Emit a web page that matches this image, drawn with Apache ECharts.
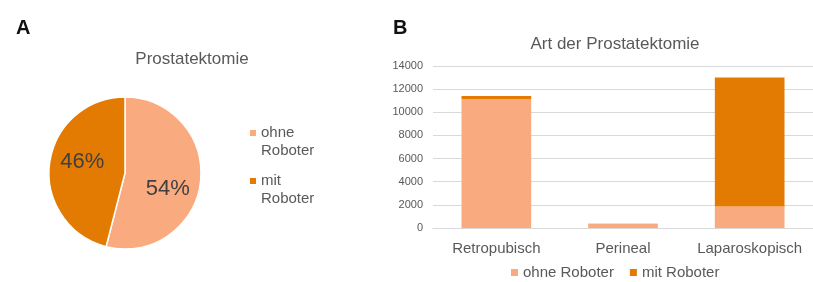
<!DOCTYPE html>
<html>
<head>
<meta charset="utf-8">
<script src="https://cdn.jsdelivr.net/npm/echarts@6/dist/echarts.min.js"></script>
<style>
  html, body { margin: 0; padding: 0; background: #fff; }
  #main { width: 813px; height: 282px; }
</style>
</head>
<body>
<div id="main"></div>
<script>
 // data
 var seriesNames = ['ohne Roboter', 'mit Roboter'];
 var categories = ['Retropubisch', 'Perineal', 'Laparoskopisch'];
 var ohneRoboter = [11150, 350, 1850];
 var mitRoboter = [250, 10, 11150];
 var pieValues = [54, 46];
 var yTicks = [0, 2000, 4000, 6000, 8000, 10000, 12000, 14000];

 var colors = ['#FAAA7F', '#E37B03'];
 var font = 'Liberation Sans, Arial, sans-serif';
 // marker sits at the top line of a two-line legend entry
 var topIcon = 'path://M0,0h0.01v0.01h-0.01zM0,6h6v6h-6zM0,35.99h0.01v0.01h-0.01z';

 var myChart = echarts.init(document.getElementById('main'));

 var option = {
   color: colors,
   animation: false,
   textStyle: { fontFamily: font },
   title: [{
     text: 'A', left: 11, top: 13,
     textStyle: { fontSize: 20, fontWeight: 'bold', color: '#111', fontFamily: font }
   }, {
     text: 'B', left: 388, top: 13,
     textStyle: { fontSize: 20, fontWeight: 'bold', color: '#111', fontFamily: font }
   }, {
     text: 'Prostatektomie', left: 187, top: 46, textAlign: 'center',
     textStyle: { fontSize: 17, fontWeight: 'normal', color: '#595959', fontFamily: font }
   }, {
     text: 'Art der Prostatektomie', left: 610, top: 31, textAlign: 'center',
     textStyle: { fontSize: 17, fontWeight: 'normal', color: '#595959', fontFamily: font }
   }],
   legend: [{
     seriesIndex: 0,
     data: [
       { name: seriesNames[0], itemStyle: { color: colors[0] } },
       { name: seriesNames[1], itemStyle: { color: colors[1] } }
     ],
     orient: 'vertical',
     left: 245, top: 119,
     icon: topIcon, itemWidth: 6, itemHeight: 36, itemGap: 12,
     textStyle: { fontSize: 15, color: '#595959', lineHeight: 18, fontFamily: font },
     formatter: function(name) { return name.replace(' ', '\n'); }
   }, {
     data: [
       { name: seriesNames[0], itemStyle: { color: colors[0] } },
       { name: seriesNames[1], itemStyle: { color: colors[1] } }
     ],
     left: 506, top: 260,
     icon: 'rect', itemWidth: 7, itemHeight: 7, itemGap: 16,
     textStyle: { fontSize: 15, color: '#595959', fontFamily: font }
   }],
   grid: { left: 433, right: -10, top: 66, bottom: 54 },
   xAxis: [{
     type: 'category',
     data: categories,
     axisLine: { lineStyle: { color: '#d9d9d9' } },
     axisTick: { show: false },
     axisLabel: { fontSize: 15, color: '#595959', margin: 13, interval: 0 }
   }],
   yAxis: [{
     type: 'value',
     min: yTicks[0], max: yTicks[yTicks.length - 1], interval: 2000,
     axisLine: { show: false },
     axisTick: { show: false },
     splitLine: { lineStyle: { color: '#d9d9d9' } },
     axisLabel: { fontSize: 11, color: '#595959', margin: 10, formatter: function(v) { return String(v); } }
   }],
   series: [{
     type: 'pie',
     center: [125, 173],
     radius: 76,
     startAngle: 90,
     clockwise: true,
     itemStyle: { borderColor: '#fff', borderWidth: 1.5 },
     label: {
       position: 'inside',
       formatter: '{c}%',
       fontSize: 22, color: '#404040', fontFamily: font
     },
     labelLine: { show: false },
     data: [
       { name: seriesNames[0], value: pieValues[0], itemStyle: { color: colors[0] }, label: { offset: [2, 11] } },
       { name: seriesNames[1], value: pieValues[1], itemStyle: { color: colors[1] }, label: { offset: [-2, -6] } }
     ]
   }, {
     name: seriesNames[0],
     type: 'bar', stack: 'total',
     barWidth: '55%',
     itemStyle: { color: colors[0] },
     data: ohneRoboter
   }, {
     name: seriesNames[1],
     type: 'bar', stack: 'total',
     barWidth: '55%',
     itemStyle: { color: colors[1] },
     data: mitRoboter
   }]
 };

 myChart.setOption(option);
</script>
</body>
</html>
